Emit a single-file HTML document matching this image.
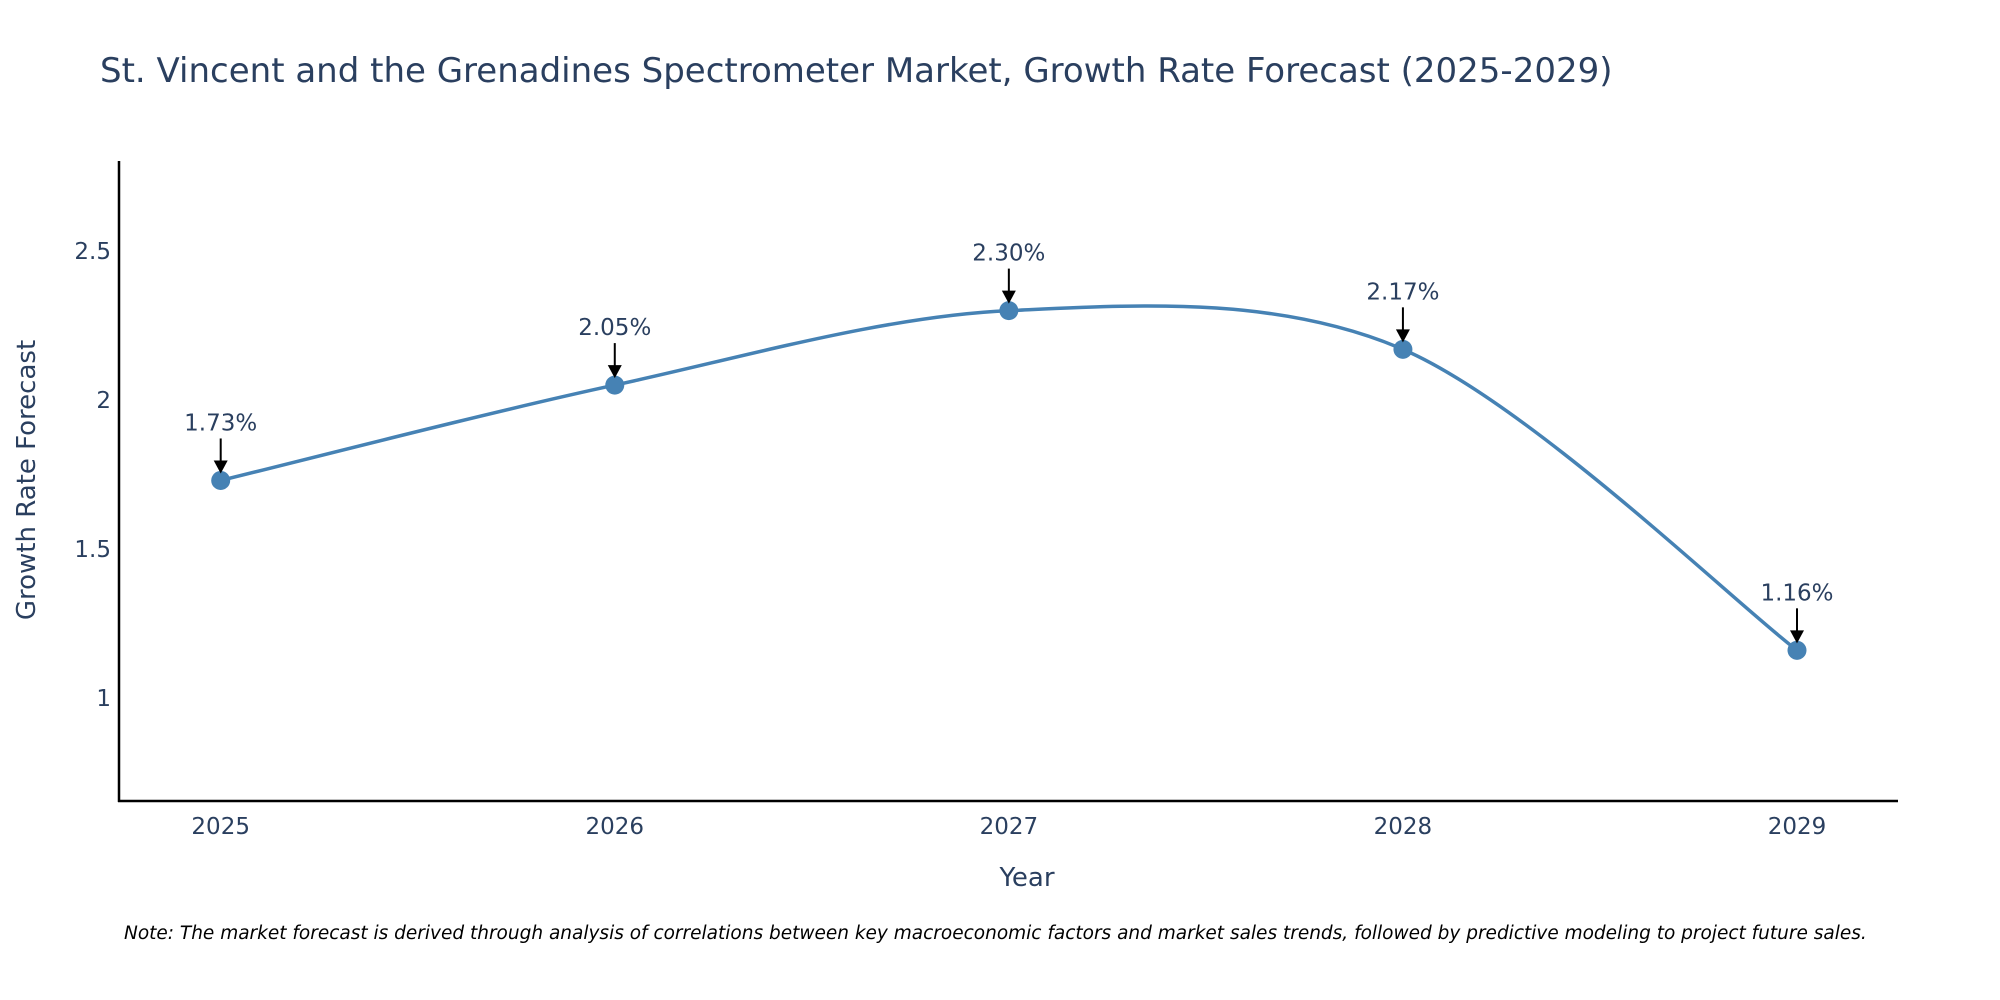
<!DOCTYPE html>
<html><head><meta charset="utf-8"><style>
html,body{margin:0;padding:0;background:#fff;}
svg{display:block;font-family:"DejaVu Sans","Liberation Sans",sans-serif;}
</style></head><body>
<svg id="chart" width="2000" height="1000">
<text x="100" y="82" font-size="34" fill="#2a3f5f">St. Vincent and the Grenadines Spectrometer Market, Growth Rate Forecast (2025-2029)</text>
<g id="yticks"></g>
<g id="xticks"></g>
<line x1="119" y1="161" x2="119" y2="802" stroke="#000" stroke-width="2.5"/>
<line x1="118" y1="801" x2="1898" y2="801" stroke="#000" stroke-width="2.5"/>
<g id="plot"></g>
<text x="1027" y="886" font-size="26" fill="#2a3f5f" text-anchor="middle">Year</text>
<text transform="translate(35,480) rotate(-90)" font-size="26" fill="#2a3f5f" text-anchor="middle">Growth Rate Forecast</text>
<text x="124" y="939" font-size="18.5" font-style="italic" fill="#000">Note: The market forecast is derived through analysis of correlations between key macroeconomic factors and market sales trends, followed by predictive modeling to project future sales.</text>
</svg>
<script>
const years = [2025, 2026, 2027, 2028, 2029];
const growth = [1.73, 2.05, 2.30, 2.17, 1.16];
const yTickValues = [1, 1.5, 2, 2.5];
const yTickLabels = ["1", "1.5", "2", "2.5"];
const NS = "http://www.w3.org/2000/svg";
function xScale(v){ return 220.7 + (v - 2025) * (1797 - 220.7) / 4; }
function yScale(v){ return 698 - (v - 1) * 298; }
function mk(tag, attrs, parent){ const e = document.createElementNS(NS, tag); for (const k in attrs) e.setAttribute(k, attrs[k]); parent.appendChild(e); return e; }
const yt = document.getElementById('yticks');
yTickValues.forEach((v, i) => {
  const t = mk('text', {x: 111, y: yScale(v) + 8, 'font-size': 23, fill: '#2a3f5f', 'text-anchor': 'end'}, yt);
  t.textContent = yTickLabels[i];
  
  
});
const xt = document.getElementById('xticks');
years.forEach(y => {
  const t = mk('text', {x: xScale(y), y: 834, 'font-size': 23, fill: '#2a3f5f', 'text-anchor': 'middle'}, xt);
  t.textContent = String(y);
  
  
});
const plot = document.getElementById('plot');
const pts = years.map((y, i) => [xScale(y), yScale(growth[i])]);
let d = `M${pts[0][0]},${pts[0][1]}`;
const tns = 0.16;
for (let i = 0; i < pts.length - 1; i++) {
  const p0 = pts[Math.max(0, i - 1)], p1 = pts[i], p2 = pts[i + 1], p3 = pts[Math.min(pts.length - 1, i + 2)];
  const c1 = [p1[0] + (p2[0] - p0[0]) * tns, p1[1] + (p2[1] - p0[1]) * tns];
  const c2 = [p2[0] - (p3[0] - p1[0]) * tns, p2[1] - (p3[1] - p1[1]) * tns];
  d += ` C${c1[0]},${c1[1]} ${c2[0]},${c2[1]} ${p2[0]},${p2[1]}`;
}
const line = mk('path', {d: d, fill: 'none', stroke: '#4682b4', 'stroke-width': 3.5}, plot);


pts.forEach((p, i) => {
  const c = mk('circle', {cx: p[0], cy: p[1], r: 9.5, fill: '#4682b4'}, plot);
  
  
  const a = mk('line', {x1: p[0], y1: p[1] - 42, x2: p[0], y2: p[1] - 18, stroke: '#000', 'stroke-width': 2}, plot);
  
  
  const h = mk('polygon', {points: `${p[0]-7},${p[1]-20} ${p[0]+7},${p[1]-20} ${p[0]},${p[1]-7}`, fill: '#000'}, plot);
  
  
  const t = mk('text', {x: p[0], y: p[1] - 50, 'font-size': 23, fill: '#2a3f5f', 'text-anchor': 'middle'}, plot);
  t.textContent = growth[i].toFixed(2) + '%';
  
  
});
</script>
</body></html>
